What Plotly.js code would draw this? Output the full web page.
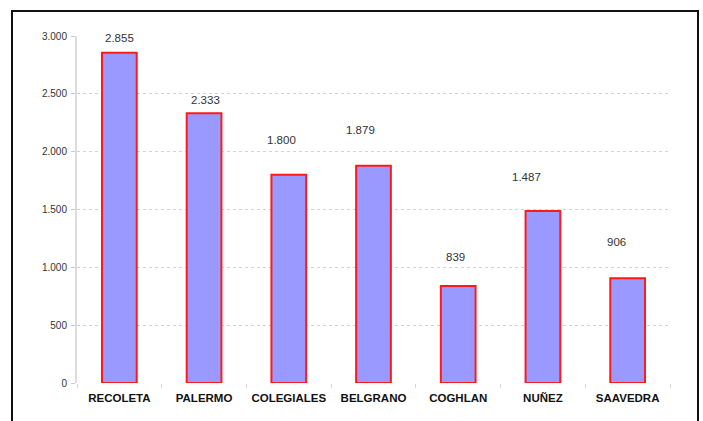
<!DOCTYPE html>
<html>
<head>
<meta charset="utf-8">
<script src="https://cdn.plot.ly/plotly-3.0.1.min.js"></script>
<style>
  html, body { margin: 0; padding: 0; background: #ffffff; }
  #wrap { position: relative; width: 703px; height: 421px; overflow: hidden; }
  #chart { position: absolute; left: 0; top: 0; width: 703px; height: 421px; }
  #frame { position: absolute; left: 11px; top: 10px; width: 684px; height: 440px;
           border: 2px solid #111; pointer-events: none; }
</style>
</head>
<body>
<div id="wrap">
  <div id="chart"></div>
  <div id="frame"></div>
</div>
<script>
const barrios = ["RECOLETA", "PALERMO", "COLEGIALES", "BELGRANO", "COGHLAN", "NUÑEZ", "SAAVEDRA"];
const valores = [2855, 2333, 1800, 1879, 839, 1487, 906];
const etiquetas = ["2.855", "2.333", "1.800", "1.879", "839", "1.487", "906"];
const yTicks = [0, 500, 1000, 1500, 2000, 2500, 3000];
const yTickText = ["0", "500", "1.000", "1.500", "2.000", "2.500", "3.000"];

// label offsets (pixels) as placed in the original chart
const labelDx = [0, 1, -7, -13, -3, -16, -11];
const labelDy = [15, 13, 35, 36, 29, 34, 36];

const trace = {
  type: "bar",
  x: barrios,
  y: valores,
  marker: { color: "#9999ff", line: { color: "#ff1a1a", width: 2 } },
  hoverinfo: "skip"
};

const annotations = barrios.map((b, i) => ({
  x: b, y: valores[i], xref: "x", yref: "y",
  text: etiquetas[i], showarrow: false,
  xanchor: "center", yanchor: "middle",
  xshift: labelDx[i], yshift: labelDy[i],
  font: { family: "Liberation Sans, Arial, sans-serif", size: 11.5, color: "#333333" }
}));

const layout = {
  width: 703, height: 421,
  margin: { l: 77, r: 33, t: 36, b: 38, pad: 0 },
  paper_bgcolor: "#ffffff", plot_bgcolor: "#ffffff",
  showlegend: false,
  bargap: 0.59,
  separators: ",.",
  font: { family: "Liberation Sans, Arial, sans-serif", color: "#333333" },
  xaxis: {
    type: "category",
    showgrid: false, showline: false, zeroline: false,
    ticks: "outside", tickson: "boundaries", ticklen: 4, tickcolor: "#d8d8d8", tickwidth: 1,
    tickfont: { family: "Liberation Sans, Arial, sans-serif", size: 11.5, color: "#111111", weight: "bold" },
    ticklabelstandoff: 6
  },
  yaxis: {
    range: [0, 3000],
    tickvals: yTicks, ticktext: yTickText,
    showgrid: true, gridcolor: "#d2d2d2", griddash: "dot", gridwidth: 1,
    zeroline: false,
    showline: true, linecolor: "#dcdcdc", linewidth: 2,
    ticks: "outside", ticklen: 4, tickcolor: "#c8c8c8", tickwidth: 1,
    tickfont: { family: "Liberation Sans, Arial, sans-serif", size: 10, color: "#333333" },
    ticklabelstandoff: 2
  },
  annotations: annotations
};

Plotly.newPlot("chart", [trace], layout, { displayModeBar: false, staticPlot: true });
</script>
</body>
</html>
